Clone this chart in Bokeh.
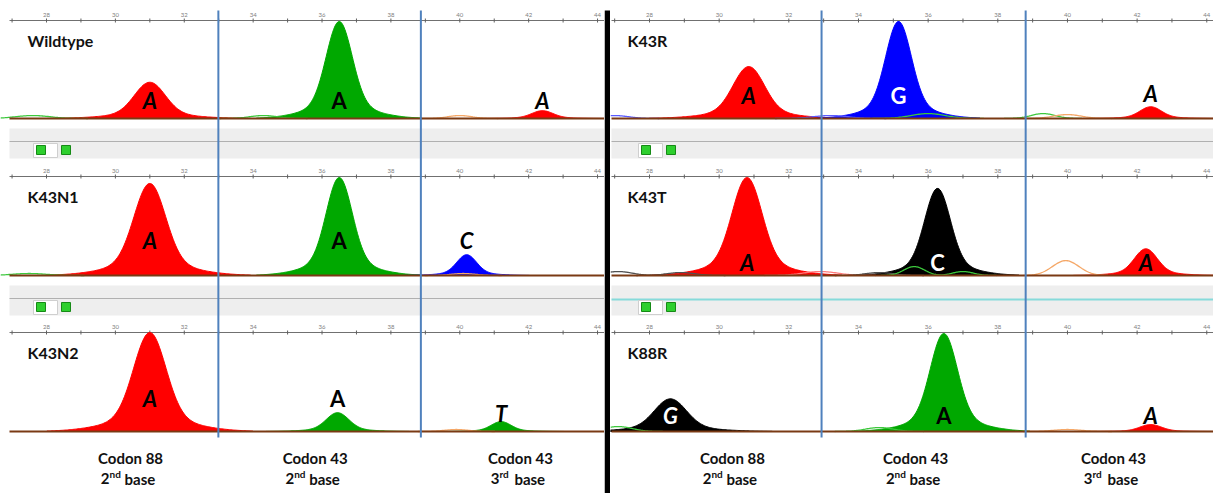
import numpy as np
from bokeh.plotting import figure
from bokeh.layouts import row
from bokeh.models import Range1d, ColumnDataSource
from bokeh.embed import file_html
from bokeh.resources import INLINE
from bokeh.core.properties import value

# ---------------- data ----------------
left_samples = ["Wildtype", "K43N1", "K43N2"]
right_samples = ["K43R", "K43T", "K88R"]

major_ticks = [28, 30, 32, 34, 36, 38, 40, 42, 44]
minor_ticks = [27, 29, 31, 33, 35, 37, 39, 41, 43]

left_codon_bounds = [32.99, 38.87]
right_codon_bounds = [32.94, 38.80]

region_titles = ["Codon 88", "Codon 43", "Codon 43"]
region_ordinals = ["2", "2", "3"]
region_suffixes = ["nd", "nd", "rd"]
left_region_centers = [30.44, 35.80, 41.76]
right_region_centers = [30.38, 35.64, 41.32]

# main (filled) peaks
peak_sample = ["Wildtype", "Wildtype", "Wildtype",
               "K43N1", "K43N1", "K43N1",
               "K43N2", "K43N2", "K43N2",
               "K43R", "K43R", "K43R",
               "K43T", "K43T", "K43T",
               "K88R", "K88R", "K88R"]
peak_channel = ["T", "A", "T",
                "T", "A", "C",
                "T", "A", "A",
                "T", "C", "T",
                "T", "G", "T",
                "G", "A", "T"]
peak_center = [31.0, 36.5, 42.4,
               31.0, 36.5, 40.2,
               31.0, 36.45, 41.2,
               30.85, 35.15, 42.39,
               30.8, 36.27, 42.25,
               28.6, 36.45, 42.39]
peak_height = [0.37, 0.99, 0.08,
               0.93, 0.99, 0.21,
               1.0, 0.19, 0.10,
               0.53, 0.99, 0.12,
               0.99, 0.88, 0.27,
               0.33, 0.99, 0.07]
peak_width = [0.44, 0.37, 0.30,
              0.45, 0.37, 0.28,
              0.46, 0.32, 0.28,
              0.44, 0.36, 0.30,
              0.42, 0.36, 0.32,
              0.45, 0.38, 0.30]
peak_label = ["A", "A", "A",
              "A", "A", "C",
              "A", "A", "T",
              "A", "G", "A",
              "A", "C", "A",
              "G", "A", "A"]
peak_label_italic = [True, False, True,
                     True, False, True,
                     True, False, True,
                     True, False, True,
                     True, False, True,
                     True, False, True]
peak_label_level = [0.18, 0.18, 0.18,
                    0.35, 0.35, 0.35,
                    0.33, 0.33, 0.18,
                    0.23, 0.23, 0.26,
                    0.13, 0.13, 0.13,
                    0.16, 0.16, 0.16]

# minor (outline only) traces
trace_sample = ["Wildtype", "Wildtype", "Wildtype",
                "K43N1", "K43N1",
                "K43N2",
                "K43R", "K43R", "K43R", "K43R", "K43R",
                "K43T", "K43T", "K43T", "K43T", "K43T", "K43T", "K43T",
                "K88R", "K88R", "K88R"]
trace_channel = ["A", "A", "S",
                 "A", "S",
                 "S",
                 "C", "C", "A", "A", "S",
                 "G", "G", "T", "G", "A", "A", "S",
                 "A", "A", "S"]
trace_center = [27.6, 34.3, 40.0,
                27.5, 40.1,
                39.9,
                27.0, 33.2, 36.0, 39.3, 40.0,
                27.1, 28.9, 32.9, 34.6, 35.6, 37.0, 39.95,
                27.1, 34.6, 40.0]
trace_height = [0.03, 0.03, 0.03,
                0.02, 0.02,
                0.02,
                0.03, 0.03, 0.05, 0.05, 0.04,
                0.04, 0.03, 0.04, 0.03, 0.09, 0.04, 0.15,
                0.05, 0.04, 0.02]
trace_width = [0.5, 0.4, 0.35,
               0.5, 0.35,
               0.35,
               0.4, 0.5, 0.5, 0.35, 0.4,
               0.4, 0.4, 0.5, 0.4, 0.3, 0.3, 0.38,
               0.4, 0.4, 0.4]

# ---------------- styles / layout ----------------
H = 493
ROW_AXIS = [20, 176, 332]
ROW_BASE = [118, 275, 431]
FILL = {"A": "#00a800", "C": "#0000ff", "G": "#000000", "T": "#ff0000"}
LINE = {"A": "#3cc83c", "C": "#5a5aff", "G": "#505050", "T": "#ff7a7a", "S": "#f5a868"}
FONT = value("Lato")


def shape(x, c, h, w):
    return h * (0.86 * np.exp(-0.5 * ((x - c) / w) ** 2)
                + 0.14 * np.exp(-0.5 * ((x - c) / (2.5 * w)) ** 2))


def build_half(samples, x0, x1, width, bounds, centers, edge_px, label_px,
               btn_px, accent_row):
    p = figure(width=width, height=H, x_range=Range1d(x0, x1),
               y_range=Range1d(H, 0), x_axis_type=None, y_axis_type=None,
               toolbar_location=None, output_backend="svg", min_border=0,
               outline_line_color=None)
    p.background_fill_color = "white"
    p.border_fill_color = "white"
    ppu = width / (x1 - x0)

    def px(v):
        return x0 + v / ppu

    xl = px(edge_px)
    for r, s in enumerate(samples):
        ax, base = ROW_AXIS[r], ROW_BASE[r]
        sc = base - ax
        if r < 2:
            p.quad(left=[xl], right=[x1], top=[base + 10], bottom=[base + 40],
                   fill_color="#eeeeee", line_color=None)
            if r == accent_row:
                p.segment(x0=[xl], x1=[x1], y0=[base + 24], y1=[base + 24],
                          line_color="#86dada", line_width=2)
            else:
                p.segment(x0=[xl], x1=[x1], y0=[base + 23], y1=[base + 23],
                          line_color="#b0b0b0", line_width=1)
            p.quad(left=[px(btn_px[0]), px(btn_px[2])],
                   right=[px(btn_px[1]), px(btn_px[3])],
                   top=[base + 25], bottom=[base + 39],
                   fill_color="white", line_color="#cfcfcf")
            p.rect(x=[px(btn_px[0] + 7.5), px(btn_px[2] + 7.5)],
                   y=[base + 31.5, base + 31.5], width=9, height=9,
                   width_units="screen", height_units="screen",
                   fill_color="#2ecf2e", line_color="#168a16")
        # axis with ticks
        p.segment(x0=[xl], x1=[x1], y0=[ax], y1=[ax],
                  line_color="#707070", line_width=1)
        allt = major_ticks + minor_ticks
        p.segment(x0=allt, x1=allt, y0=[ax - 2] * len(allt),
                  y1=[ax + 2] * len(allt), line_color="#606060", line_width=1)
        p.text(x=major_ticks, y=[ax - 6] * len(major_ticks),
               text=[str(t) for t in major_ticks], text_font=FONT,
               text_font_size="6px", text_color="#808080",
               text_align="center", text_baseline="middle")
        # sample label
        p.text(x=[px(label_px)], y=[ax + 20], text=[s], text_font=FONT,
               text_font_size="16px", text_font_style="bold",
               text_color="#111111", text_align="left",
               text_baseline="middle")
        # filled peaks
        for i, ps in enumerate(peak_sample):
            if ps != s:
                continue
            c, h, w = peak_center[i], peak_height[i], peak_width[i]
            xs = np.linspace(c - 6.5 * w, c + 6.5 * w, 160)
            ys = base - sc * shape(xs, c, h, w)
            px_ = np.concatenate([[xs[0]], xs, [xs[-1]]])
            py_ = np.concatenate([[base], ys, [base]])
            col = FILL[peak_channel[i]]
            p.patch(px_, py_, fill_color=col, line_color=col, line_width=1)
        # minor traces
        for i, ts in enumerate(trace_sample):
            if ts != s:
                continue
            c, h, w = trace_center[i], trace_height[i], trace_width[i]
            xs = np.linspace(max(x0, c - 3.2 * w), c + 3.2 * w, 80)
            ys = base - sc * h * np.exp(-0.5 * ((xs - c) / w) ** 2)
            p.line(xs, ys, line_color=LINE[trace_channel[i]], line_width=1.3)
        # baseline
        p.segment(x0=[xl], x1=[x1], y0=[base], y1=[base],
                  line_color="#7a3a14", line_width=2)
        # peak labels
        lx, ly, lt, lc, lf = [], [], [], [], []
        for i, ps in enumerate(peak_sample):
            if ps != s:
                continue
            lx.append(peak_center[i])
            ly.append(base - sc * peak_label_level[i])
            lt.append(peak_label[i])
            inside = peak_label_level[i] < peak_height[i] * 0.9
            dark = peak_channel[i] in ("C", "G")
            lc.append("white" if (inside and dark) else "black")
            lf.append("bold italic" if peak_label_italic[i] else "bold")
        src = ColumnDataSource(dict(x=lx, y=ly, t=lt, c=lc, f=lf))
        p.text(x="x", y="y", text="t", text_color="c", text_font_style="f",
               source=src, text_font=FONT, text_font_size="22px",
               text_align="center", text_baseline="middle")
    # codon boundaries
    p.segment(x0=bounds, x1=bounds, y0=[10, 10], y1=[437, 437],
              line_color="#4f81bd", line_width=2)
    # bottom region labels
    n = len(centers)
    p.text(x=centers, y=[457] * n, text=region_titles, text_font=FONT,
           text_font_size="15px", text_font_style="bold", text_color="#111111",
           text_align="center", text_baseline="middle")
    p.text(x=centers, y=[478] * n, text=region_ordinals, text_font=FONT,
           text_font_size="15px", text_font_style="bold", text_color="#111111",
           text_align="right", text_baseline="middle", x_offset=-21)
    p.text(x=centers, y=[473] * n, text=region_suffixes, text_font=FONT,
           text_font_size="10px", text_font_style="bold", text_color="#111111",
           text_align="left", text_baseline="middle", x_offset=-21)
    p.text(x=centers, y=[478] * n, text=["base"] * n, text_font=FONT,
           text_font_size="15px", text_font_style="bold", text_color="#111111",
           text_align="left", text_baseline="middle", x_offset=-6)
    return p


left = build_half(left_samples, 26.664, 44.202, 604, left_codon_bounds,
                  left_region_centers, edge_px=9, label_px=27,
                  btn_px=[33, 57, 58, 86], accent_row=None)
right = build_half(right_samples, 26.880, 44.193, 603, right_codon_bounds,
                   right_region_centers, edge_px=1, label_px=17,
                   btn_px=[28, 52, 53, 82], accent_row=1)

div = figure(width=6, height=H, x_range=Range1d(0, 1), y_range=Range1d(H, 0),
             x_axis_type=None, y_axis_type=None, toolbar_location=None,
             output_backend="svg", min_border=0, outline_line_color=None)
div.background_fill_color = "white"
div.border_fill_color = "white"
div.quad(left=[0], right=[1], top=[10], bottom=[H], fill_color="black",
         line_color=None)

layout = row(left, div, right, spacing=0)
open("out.html", "w").write(file_html(layout, INLINE))
